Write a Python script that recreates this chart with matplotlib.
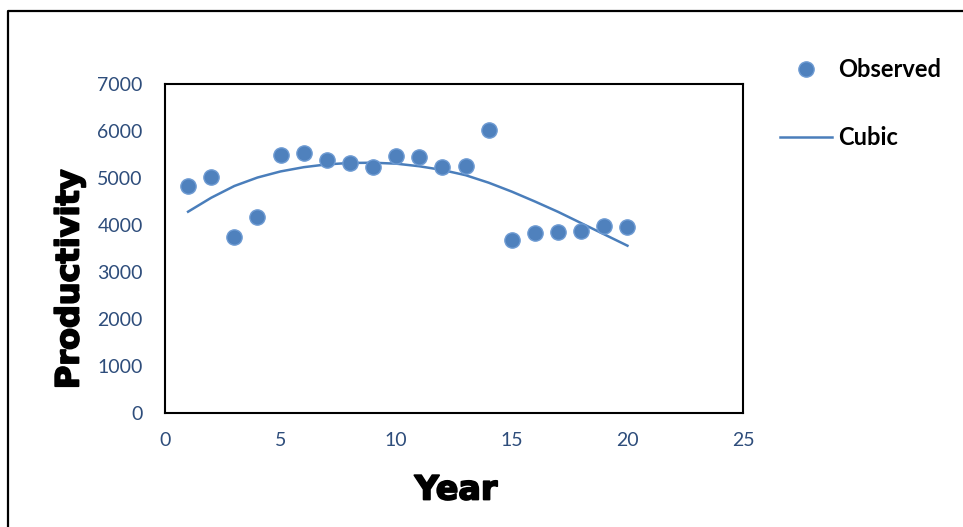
import matplotlib
matplotlib.use("Agg")
import matplotlib.pyplot as plt
import matplotlib.patheffects as pe
from matplotlib.lines import Line2D

# observed productivity per year
years = list(range(1, 21))
observed = [4830, 5020, 3745, 4170, 5490, 5530, 5380, 5320, 5234, 5470,
            5447, 5234, 5255, 6020, 3680, 3830, 3850, 3870, 3980, 3957]
# cubic trend
cubic = [4283, 4580, 4830, 5010, 5140, 5230, 5290, 5320, 5325, 5305,
         5250, 5170, 5060, 4900, 4710, 4500, 4280, 4040, 3800, 3560]

x_ticks = [0, 5, 10, 15, 20, 25]
y_ticks = [0, 1000, 2000, 3000, 4000, 5000, 6000, 7000]

tick_color = '#2E4D7B'
blue = '#4F81BD'

plt.rcParams['font.family'] = ['Lato', 'DejaVu Sans']

fig = plt.figure(figsize=(9.63, 5.27), dpi=100)
ax = fig.add_axes([0.1713, 0.2163, 0.6003, 0.6243])

ax.plot(years, observed, linestyle='none', marker='o', markersize=11,
        markerfacecolor=blue, markeredgecolor='#6E9BD3', markeredgewidth=1,
        label='Observed', zorder=3)
ax.plot(years, cubic, color='#4A7EBB', linewidth=1.8, label='Cubic', zorder=2)

ax.set_xlim(0, 25)
ax.set_ylim(0, 7000)
ax.set_xticks(x_ticks)
ax.set_yticks(y_ticks)
ax.tick_params(length=0, labelsize=14, labelcolor=tick_color)
ax.tick_params(axis='y', pad=16)
ax.tick_params(axis='x', pad=14)
for s in ax.spines.values():
    s.set_linewidth(1.5)
    s.set_color('black')

# heavy axis titles (thickened with a stroke)
heavy = [pe.withStroke(linewidth=1.3, foreground='black')]
fig.text(70 / 963, 1 - 279 / 527, 'Productivity', rotation=90, ha='center',
         va='center', fontsize=23, fontweight='bold', family='DejaVu Sans',
         path_effects=heavy)
fig.text(456 / 963, 1 - 490 / 527, 'Year', ha='center', va='center',
         fontsize=24, fontweight='bold', family='DejaVu Sans',
         path_effects=heavy)

leg = ax.legend(loc='upper left', bbox_to_anchor=(780 / 963, 1 - 58 / 527),
                bbox_transform=fig.transFigure, frameon=False,
                prop={'size': 17, 'weight': 'bold'}, labelspacing=1.9,
                handlelength=2.2, handletextpad=0.25, borderaxespad=0,
                borderpad=0)

# outer chart border (left and top edges visible)
fig.add_artist(Line2D([8 / 963, 8 / 963, 1.0], [0.0, 1 - 11 / 527, 1 - 11 / 527],
                      transform=fig.transFigure, color='black', linewidth=1.6))

fig.savefig('out.png', dpi=100)
